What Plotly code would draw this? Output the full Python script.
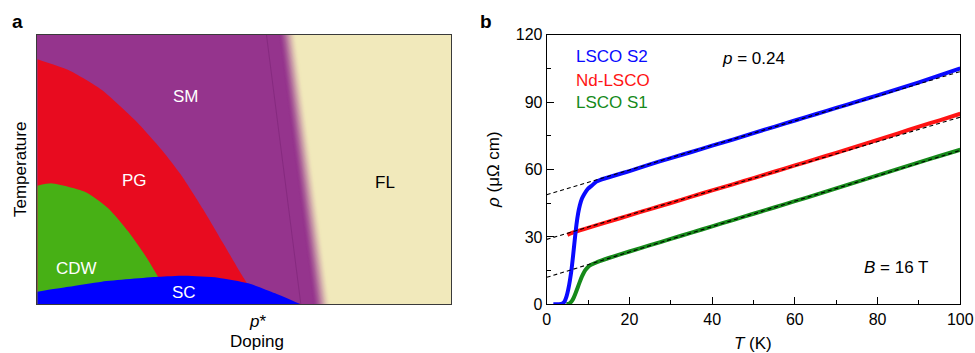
import plotly.graph_objects as go

W, H = 975, 353
FONT = "Liberation Sans, Arial, Helvetica, sans-serif"

# ---------------- Panel a: schematic phase diagram (normalised coords) ----------------
pg_x = [0.0, 0.075, 0.156, 0.236, 0.301, 0.350, 0.400, 0.450, 0.490, 0.510, 0.535]
pg_y = [0.910, 0.870, 0.796, 0.684, 0.573, 0.475, 0.355, 0.225, 0.120, 0.070, 0.005]

cdw_x = [0.0, 0.035, 0.115, 0.172, 0.220, 0.260, 0.292, 0.330]
cdw_y = [0.440, 0.449, 0.418, 0.356, 0.270, 0.183, 0.102, 0.0]

sc_x = [0.0, 0.075, 0.156, 0.292, 0.357, 0.437, 0.510, 0.575, 0.637]
sc_y = [0.047, 0.065, 0.084, 0.102, 0.106, 0.099, 0.078, 0.041, 0.0]

fl_x = [0.554, 0.637]   # SM / FL crossover line (top, bottom)
fl_y = [1.0, 0.0]

region_labels = ["SM", "PG", "CDW", "SC", "FL"]
region_lx = [0.360, 0.236, 0.094, 0.355, 0.840]
region_ly = [0.771, 0.458, 0.134, 0.043, 0.453]
region_col = ["white", "white", "white", "white", "black"]

# ---------------- Panel b: resistivity data ----------------
T_s2 = [1.6, 3.0, 3.8, 4.3, 4.8, 5.2, 5.6, 6.0, 6.4, 6.8, 7.2, 7.6, 8.0, 8.5, 9.0, 9.5,
        10, 11, 12, 13, 14, 16, 18, 20, 25, 30, 35, 40, 45, 50, 55, 60, 65, 70, 75, 80,
        85, 90, 95, 100]
rho_s2 = [0, 0, 0.3, 1.2, 3.5, 6.5, 10.5, 15.5, 22, 29, 35.5, 40.5, 44, 47, 48.8, 50.3,
          51.5, 53.0, 54.6, 55.4, 56.0, 57.1, 58.2, 59.3, 62.3, 65.1, 67.8, 70.6, 73.3, 76.2,
          79.0, 81.8, 84.6, 87.4, 90.2, 93.0, 95.9, 98.8, 101.9, 105.0]

T_nd = [5.0, 6, 8, 10, 15, 20, 25, 30, 35, 40, 45, 50, 55, 60, 65, 70, 75, 80, 85, 90, 95, 100]
rho_nd = [30.9, 31.7, 32.9, 34.0, 36.8, 39.6, 42.4, 45.1, 47.9, 50.7, 53.4, 56.2, 59.0,
          61.8, 64.6, 67.4, 70.3, 73.2, 76.1, 79.1, 81.9, 84.8]

T_s1 = [4.8, 5.5, 6, 6.5, 7, 7.5, 8, 8.5, 9, 9.5, 10, 10.5, 11, 12, 13, 15, 20, 25, 30,
        35, 40, 45, 50, 55, 60, 65, 70, 75, 80, 85, 90, 95, 100]
rho_s1 = [0, 0.4, 1.2, 2.8, 5.0, 7.5, 10.0, 12.3, 14.2, 15.6, 16.6, 17.3, 17.8, 18.6, 19.3,
          20.6, 23.5, 26.3, 29.1, 31.9, 34.7, 37.5, 40.3, 43.1, 45.9, 48.7, 51.6, 54.5,
          57.4, 60.3, 63.2, 66.0, 68.8]

fit_T = [0, 100]
fit_s2 = [48.8, 103.6]
fit_nd = [28.9, 83.3]
fit_s1 = [12.0, 68.5]

series_names = ["LSCO S2", "Nd-LSCO", "LSCO S1"]
series_cols = ["#0a0aff", "#ff1414", "#168a1a"]

# ---------------- colours (panel a) ----------------
PURPLE = (149, 52, 141)
BEIGE = (241, 233, 187)
RED = "#e80b1f"
GREEN = "#47b015"
BLUE = "#0000ff"


def rgb(c):
    return "rgb(%d,%d,%d)" % c


fig = go.Figure()

# beige FL background
fig.add_trace(go.Scatter(x=[1, 1], y=[1, 0], mode="lines", fill="tozerox",
                         fillcolor=rgb(BEIGE), line=dict(width=0), xaxis="x", yaxis="y",
                         showlegend=False, hoverinfo="skip"))
# gradient from purple to beige (strips drawn right to left)
N = 24
off0, off1 = 0.030, 0.074
for i in reversed(range(N + 1)):
    t = i / N
    s = t * t * (3 - 2 * t)
    col = tuple(PURPLE[k] + (BEIGE[k] - PURPLE[k]) * s for k in range(3))
    off = off0 + (off1 - off0) * t
    fig.add_trace(go.Scatter(x=[fl_x[0] + off, fl_x[1] + off], y=fl_y, mode="lines",
                             fill="tozerox", fillcolor=rgb(col), line=dict(width=0),
                             xaxis="x", yaxis="y", showlegend=False, hoverinfo="skip"))
# thin crossover line
fig.add_trace(go.Scatter(x=fl_x, y=fl_y, mode="lines", line=dict(color="rgba(115,30,110,0.45)", width=1),
                         xaxis="x", yaxis="y", showlegend=False, hoverinfo="skip"))
# PG, CDW, SC domes
for xs, ys, c in [(pg_x, pg_y, RED), (cdw_x, cdw_y, GREEN), (sc_x, sc_y, BLUE)]:
    fig.add_trace(go.Scatter(x=xs, y=ys, mode="lines", fill="tozeroy", fillcolor=c,
                             line=dict(width=0, shape="spline", smoothing=0.6, color=c),
                             xaxis="x", yaxis="y", showlegend=False, hoverinfo="skip"))

# ---------------- panel b traces ----------------
for T, r, c in [(T_s1, rho_s1, series_cols[2]), (T_nd, rho_nd, series_cols[1]),
                (T_s2, rho_s2, series_cols[0])]:
    fig.add_trace(go.Scatter(x=T, y=r, mode="lines",
                             line=dict(color=c, width=4, shape="spline", smoothing=0.6),
                             xaxis="x2", yaxis="y2", showlegend=False, hoverinfo="skip"))
for f in [fit_s2, fit_nd, fit_s1]:
    fig.add_trace(go.Scatter(x=fit_T, y=f, mode="lines",
                             line=dict(color="black", width=1.1, dash="4px,3px"),
                             xaxis="x2", yaxis="y2", showlegend=False, hoverinfo="skip"))


def px(x):
    return x / W


def py(y):
    return 1 - y / H


def txt(text, x, y, xref="paper", yref="paper", size=17, color="black", angle=0, xanchor="center"):
    return dict(text=text, x=x, y=y, xref=xref, yref=yref, xanchor=xanchor, yanchor="middle",
                textangle=angle, showarrow=False, font=dict(size=size, color=color, family=FONT))


ann = []
for lab, lx, ly, c in zip(region_labels, region_lx, region_ly, region_col):
    ann.append(txt(lab, lx, ly, "x", "y", color=c))

ann.append(txt("<b>a</b>", px(17), py(22), size=19))
ann.append(txt("<b>b</b>", px(486), py(22), size=19))
ann.append(txt("Temperature", px(20), py(170), angle=-90))
ann.append(txt("<i>p</i>*", px(257), py(321)))
ann.append(txt("Doping", px(257), py(341)))
ann.append(txt("<i>ρ</i> (μΩ cm)", px(493), py(170), angle=-90))
ann.append(txt("<i>T</i> (K)", px(753), py(343)))
leg_y = [110.5, 99.8, 89.6]
for name, c, yy in zip(series_names, series_cols, leg_y):
    ann.append(txt(name, 6.6, yy, "x2", "y2", color=c, xanchor="left"))
ann.append(txt("<i>p</i> = 0.24", 41.9, 109.6, "x2", "y2", xanchor="left"))
ann.append(txt("<i>B</i> = 16 T", 76.2, 16.6, "x2", "y2", xanchor="left"))

fig.update_layout(
    width=W, height=H, autosize=False,
    margin=dict(l=0, r=0, t=0, b=0, pad=0, autoexpand=False),
    paper_bgcolor="white", plot_bgcolor="white",
    font=dict(family=FONT, size=16, color="black"),
    hovermode=False,
    xaxis=dict(domain=[px(37.3), px(451)], range=[0, 1], anchor="y",
               showticklabels=False, ticks="", showgrid=False, zeroline=False,
               showline=True, mirror=True, linecolor="#3a3a3a", linewidth=1),
    yaxis=dict(domain=[py(304.3), py(35)], range=[0, 1], anchor="x",
               showticklabels=False, ticks="", showgrid=False, zeroline=False,
               showline=True, mirror=True, linecolor="#3a3a3a", linewidth=1),
    xaxis2=dict(domain=[px(546.7), px(960.3)], range=[0, 100], anchor="y2",
                tick0=0, dtick=20, ticks="inside", ticklen=7, tickwidth=1, tickcolor="black",
                minor=dict(dtick=10, ticks="inside", ticklen=4, tickwidth=1, tickcolor="black"),
                showgrid=False, zeroline=False, showline=True, mirror=True,
                linecolor="black", linewidth=1, tickfont=dict(size=16, family=FONT)),
    yaxis2=dict(domain=[py(304.3), py(34.7)], range=[0, 120], anchor="x2",
                tick0=0, dtick=30, ticks="inside", ticklen=7, tickwidth=1, tickcolor="black",
                minor=dict(dtick=15, ticks="inside", ticklen=4, tickwidth=1, tickcolor="black"),
                showgrid=False, zeroline=False, showline=True, mirror=True,
                linecolor="black", linewidth=1, tickfont=dict(size=16, family=FONT)),
    annotations=ann,
)

# remove the default page margin so the 975x353 figure fills the window exactly
fig.write_html("out.html",
               config={"displayModeBar": False, "staticPlot": True},
               post_script="document.body.style.margin='0';"
                           "document.documentElement.style.overflow='hidden';")
